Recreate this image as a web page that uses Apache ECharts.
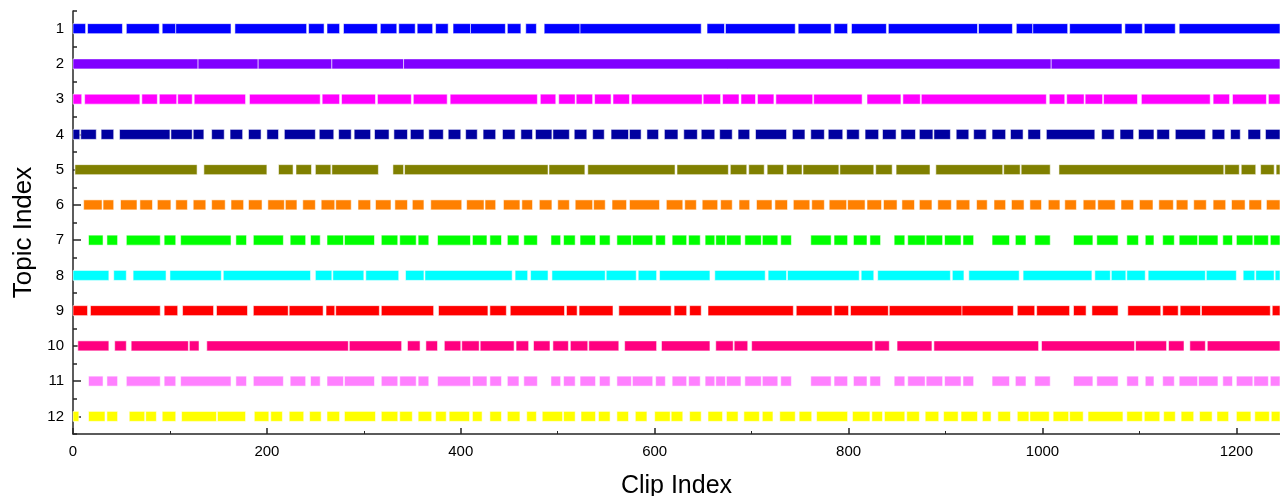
<!DOCTYPE html>
<html>
<head>
<meta charset="utf-8">
<script src="https://cdn.jsdelivr.net/npm/echarts@6/dist/echarts.min.js"></script>
<style>
  html, body { margin: 0; padding: 0; background: #ffffff; }
  #chart { width: 1280px; height: 496px; }
</style>
</head>
<body>
<div id="chart"></div>
<script>
// Topics shown on the vertical axis, top to bottom
const topics = ['1', '2', '3', '4', '5', '6', '7', '8', '9', '10', '11', '12'];

// Colour of each topic row
const topicColors = ['#0000FF', '#8000FF', '#FF00FF', '#0000A0', '#808000', '#FF8000',
                     '#00FF00', '#00FFFF', '#FF0000', '#FF0080', '#FF80FF', '#FFFF00'];

// Horizontal axis
const clipMin = 0;
const clipMax = 1245;
const clipMajorTicks = [0, 200, 400, 600, 800, 1000, 1200];
const clipMinorTicks = [100, 300, 500, 700, 900, 1100];

// Clip ranges [start, end] in which each topic is present
const topic1 = [[0,13],[15,51],[55,89],[92,106],[106,163],[167,241],[243,259],[262,275],[279,314],[317,334],[336,353],[355,371],[374,387],[392,410],[410,446],[448,462],[467,478],[486,523],[523,648],[654,672],[673,745],[748,782],[785,799],[803,839],[841,933],[934,969],[973,990],[990,1026],[1028,1082],[1085,1103],[1105,1137],[1141,1245]];
const topic2 = [[0,129],[129,191],[191,267],[267,341],[341,1009],[1009,1245]];
const topic3 = [[0,9],[12,69],[71,87],[89,107],[108,123],[125,178],[182,255],[257,275],[277,312],[314,349],[351,386],[389,479],[482,498],[501,518],[519,536],[538,555],[557,574],[576,649],[650,668],[670,687],[689,704],[706,723],[725,763],[764,814],[819,854],[856,874],[875,1004],[1007,1023],[1025,1043],[1044,1062],[1063,1098],[1102,1173],[1176,1193],[1196,1231],[1233,1245]];
const topic4 = [[0,7],[8,24],[29,42],[48,100],[101,123],[124,135],[143,156],[162,175],[181,194],[200,212],[218,250],[254,269],[274,287],[290,307],[311,326],[331,345],[348,362],[367,382],[387,400],[405,417],[423,436],[443,456],[462,474],[477,494],[495,512],[517,530],[536,548],[555,573],[574,586],[592,604],[610,624],[630,644],[648,662],[667,680],[686,698],[704,736],[742,755],[761,775],[779,794],[798,811],[817,831],[835,849],[854,869],[873,887],[888,905],[911,924],[929,942],[948,962],[967,980],[985,998],[1004,1054],[1061,1074],[1080,1094],[1099,1115],[1118,1131],[1137,1168],[1175,1188],[1194,1204],[1212,1225],[1230,1245]];
const topic5 = [[2,128],[135,200],[212,227],[230,246],[250,266],[267,315],[330,341],[342,490],[491,528],[531,621],[623,676],[678,695],[697,713],[716,733],[736,752],[753,790],[791,826],[828,845],[849,884],[890,959],[960,977],[978,1008],[1017,1187],[1188,1203],[1205,1220],[1225,1239],[1241,1245]];
const topic6 = [[11,30],[31,42],[49,66],[69,82],[87,101],[106,118],[124,137],[143,157],[163,176],[181,195],[201,218],[219,231],[237,250],[256,270],[271,287],[294,307],[312,328],[332,345],[350,362],[369,401],[406,424],[425,436],[444,461],[463,474],[481,494],[500,512],[518,536],[537,549],[556,571],[574,605],[612,629],[631,643],[649,665],[668,680],[687,698],[705,721],[724,737],[743,760],[762,775],[780,798],[799,817],[819,834],[836,850],[855,868],[873,886],[892,906],[911,925],[932,943],[950,962],[968,981],[987,999],[1006,1018],[1023,1035],[1042,1055],[1057,1075],[1081,1094],[1100,1114],[1120,1135],[1138,1150],[1156,1169],[1176,1189],[1195,1209],[1213,1226],[1231,1245]];
const topic7 = [[16,31],[35,46],[55,90],[94,106],[111,163],[168,179],[186,217],[224,240],[245,255],[262,279],[280,311],[318,335],[337,354],[356,367],[376,410],[412,427],[430,442],[448,460],[465,479],[493,503],[506,518],[523,539],[543,554],[561,576],[577,598],[601,611],[618,633],[635,647],[652,662],[663,673],[674,689],[693,710],[711,727],[730,741],[761,782],[785,799],[805,819],[822,833],[847,858],[861,879],[880,897],[899,916],[918,929],[948,966],[972,983],[992,1008],[1032,1052],[1056,1078],[1087,1099],[1106,1115],[1124,1136],[1141,1160],[1161,1181],[1186,1196],[1200,1217],[1218,1233],[1235,1245]];
const topic8 = [[0,37],[42,55],[62,96],[100,153],[155,245],[250,267],[268,300],[302,336],[343,362],[363,453],[456,469],[472,490],[494,549],[550,581],[583,602],[605,657],[662,714],[717,736],[737,811],[813,826],[830,905],[907,919],[924,976],[980,1051],[1054,1070],[1071,1086],[1087,1106],[1109,1168],[1169,1200],[1207,1219],[1220,1239],[1240,1245]];
const topic9 = [[0,15],[18,90],[94,108],[113,145],[148,180],[186,222],[223,258],[261,270],[271,316],[318,372],[377,428],[430,447],[451,507],[509,520],[522,557],[563,617],[620,633],[636,648],[655,743],[746,783],[785,800],[802,841],[842,917],[917,970],[974,992],[994,1028],[1032,1045],[1051,1078],[1088,1122],[1124,1140],[1142,1163],[1164,1235],[1237,1245]];
const topic10 = [[5,37],[43,55],[60,119],[120,130],[138,284],[285,339],[345,358],[364,376],[383,400],[401,419],[420,455],[457,470],[475,492],[495,511],[513,531],[532,563],[569,602],[607,657],[663,681],[682,696],[700,825],[827,842],[850,886],[888,996],[999,1095],[1096,1128],[1130,1146],[1152,1168],[1170,1245]];
const topic11 = [[16,31],[35,46],[55,90],[94,106],[111,163],[168,179],[186,217],[224,240],[245,255],[262,279],[280,311],[318,335],[337,354],[356,367],[376,410],[412,427],[430,442],[448,460],[465,479],[493,503],[506,518],[523,539],[543,554],[561,576],[577,598],[601,611],[618,633],[635,647],[652,662],[663,673],[674,689],[693,710],[711,727],[730,741],[761,782],[785,799],[805,819],[822,833],[847,858],[861,879],[880,897],[899,916],[918,929],[948,966],[972,983],[992,1008],[1032,1052],[1056,1078],[1087,1099],[1106,1115],[1124,1136],[1141,1160],[1161,1181],[1186,1196],[1200,1217],[1218,1233],[1235,1245]];
const topic12 = [[0,6],[16,33],[35,46],[58,74],[75,86],[92,106],[112,148],[149,178],[187,202],[204,216],[223,238],[244,256],[262,275],[280,312],[318,335],[337,350],[356,370],[374,385],[388,409],[412,422],[430,442],[448,461],[468,478],[484,505],[506,518],[524,539],[542,554],[561,573],[580,592],[600,616],[617,629],[636,648],[655,670],[674,686],[692,708],[711,722],[729,745],[749,762],[767,799],[804,822],[824,835],[837,858],[860,873],[879,893],[898,913],[916,933],[938,947],[954,967],[974,986],[987,1007],[1011,1027],[1028,1042],[1047,1083],[1087,1103],[1105,1121],[1125,1137],[1143,1156],[1162,1175],[1180,1192],[1200,1215],[1219,1234],[1236,1245]];

const topicRanges = [topic1, topic2, topic3, topic4, topic5, topic6,
                     topic7, topic8, topic9, topic10, topic11, topic12];

const BAR_HEIGHT = 10;
const FONT = 'Arial, "Liberation Sans", sans-serif';
const AXIS_COLOR = '#262626';

function makeRenderItem(color) {
  return function (params, api) {
    const row = api.value(2);
    const start = api.coord([api.value(0), row]);
    const end = api.coord([api.value(1), row]);
    const rect = echarts.graphic.clipRectByRect(
      { x: start[0], y: start[1] - BAR_HEIGHT / 2, width: end[0] - start[0], height: BAR_HEIGHT },
      { x: params.coordSys.x, y: params.coordSys.y, width: params.coordSys.width, height: params.coordSys.height }
    );
    if (!rect) return;
    return {
      type: 'rect',
      shape: rect,
      style: { fill: color, stroke: 'rgba(255,255,255,0.55)', lineWidth: 1 }
    };
  };
}

const series = topicRanges.map(function (ranges, i) {
  return {
    type: 'custom',
    name: topics[i],
    xAxisIndex: 0,
    yAxisIndex: 0,
    renderItem: makeRenderItem(topicColors[i]),
    encode: { x: [0, 1], y: 2 },
    data: ranges.map(function (r) { return [r[0], r[1], i]; }),
    z: 5
  };
});

const chart = echarts.init(document.getElementById('chart'), null, { renderer: 'canvas' });
chart.setOption({
  animation: false,
  backgroundColor: '#ffffff',
  grid: { left: 73, right: 0, top: 11, bottom: 62, containLabel: false, outerBoundsMode: 'none' },
  xAxis: [
    {
      type: 'value',
      min: clipMin,
      max: clipMax,
      name: 'Clip Index',
      nameLocation: 'middle',
      nameGap: 40,
      nameTextStyle: { fontFamily: FONT, fontSize: 25, color: '#000' },
      axisLine: { show: true, lineStyle: { color: AXIS_COLOR, width: 1.5 } },
      axisTick: { show: true, inside: true, length: 6, customValues: clipMajorTicks,
                  lineStyle: { color: AXIS_COLOR, width: 1.5 } },
      axisLabel: { customValues: clipMajorTicks, fontFamily: FONT, fontSize: 15, color: '#000', margin: 10,
                   formatter: function (v) { return String(v); } },
      splitLine: { show: false }
    },
    {
      type: 'value',
      min: clipMin,
      max: clipMax,
      position: 'bottom',
      axisLine: { show: false },
      axisTick: { show: true, inside: true, length: 3, customValues: clipMinorTicks,
                  lineStyle: { color: AXIS_COLOR, width: 1 } },
      axisLabel: { show: false },
      splitLine: { show: false }
    }
  ],
  yAxis: [
    {
      type: 'category',
      data: topics,
      inverse: true,
      boundaryGap: true,
      position: 'left',
      name: 'Topic Index',
      nameLocation: 'middle',
      nameGap: 35,
      nameRotate: 90,
      nameTextStyle: { fontFamily: FONT, fontSize: 26, color: '#000', padding: [0, 20, 0, 0] },
      axisLine: { show: true, lineStyle: { color: AXIS_COLOR, width: 1.5 } },
      axisTick: { show: true, inside: true, length: 4, alignWithLabel: false,
                  lineStyle: { color: AXIS_COLOR, width: 1.5 } },
      axisLabel: { fontFamily: FONT, fontSize: 15, color: '#000', margin: 9 },
      splitLine: { show: false }
    },
    {
      type: 'category',
      data: topics,
      inverse: true,
      boundaryGap: true,
      position: 'left',
      axisLine: { show: false },
      axisTick: { show: true, inside: true, length: 8, alignWithLabel: true,
                  lineStyle: { color: AXIS_COLOR, width: 1.5 } },
      axisLabel: { show: false },
      splitLine: { show: false }
    }
  ],
  series: series
});
</script>
</body>
</html>
